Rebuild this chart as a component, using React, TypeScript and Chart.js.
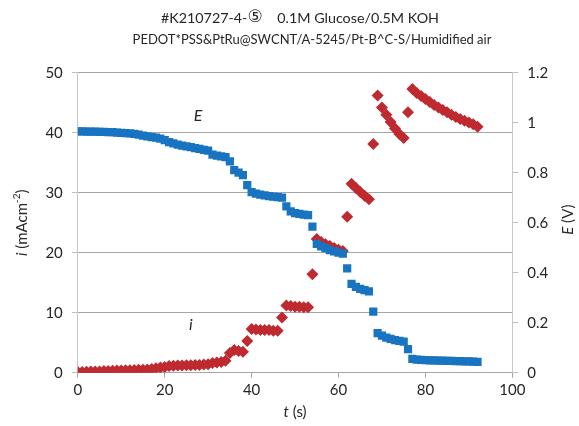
import React, { useEffect, useRef } from "react";
import { Chart, registerables } from "chart.js";

Chart.register(...registerables);

const TIME_S = [
  0, 1, 2, 3, 4, 5, 6, 7, 8, 9, 10, 11, 12, 13, 14, 15, 16, 17, 18, 19,
  20, 21, 22, 23, 24, 25, 26, 27, 28, 29, 30, 31, 32, 33, 34, 35, 36, 37, 38, 39,
  40, 41, 42, 43, 44, 45, 46, 47, 48, 49, 50, 51, 52, 53, 54, 55, 56, 57, 58, 59,
  60, 61, 62, 63, 64, 65, 66, 67, 68, 69, 70, 71, 72, 73, 74, 75, 76, 77, 78, 79,
  80, 81, 82, 83, 84, 85, 86, 87, 88, 89, 90, 91, 92,
];

const CURRENT_I = [
  0.1, 0.12, 0.15, 0.18, 0.2, 0.22,
  0.28, 0.3, 0.33, 0.35, 0.38, 0.4, 0.42, 0.45, 0.48, 0.5, 0.55, 0.6,
  0.75, 0.85, 0.95,
  1.1, 1.15, 1.2, 1.2, 1.25, 1.25, 1.3, 1.3, 1.35, 1.4,
  1.6, 1.7, 1.8, 2.0,
  3.3,
  3.8, 3.6, 3.5,
  5.3,
  7.3, 7.2, 7.1, 7.1, 7.1, 7.0, 7.0,
  9.2,
  11.2, 11.1, 11.0, 11.0, 10.9, 10.9,
  16.4,
  22.3, 21.8, 21.4, 21.1, 20.8, 20.5, 20.3,
  26.0,
  31.5, 30.8, 30.1, 29.5, 28.9,
  38.1,
  46.2,
  44.2, 43.0, 41.8, 40.7, 39.8, 39.1,
  43.4,
  47.3,
  46.6, 46.1, 45.6, 45.1, 44.6, 44.2, 43.8, 43.4, 43.0, 42.6, 42.3, 42.0, 41.7, 41.4, 41.0,
];

const POTENTIAL_E = [
  0.965, 0.965, 0.964, 0.964, 0.964, 0.963, 0.963, 0.962, 0.962,
  0.96, 0.959, 0.958, 0.957, 0.955, 0.952,
  0.948, 0.945, 0.942, 0.94, 0.936,
  0.93,
  0.922, 0.917, 0.912, 0.908, 0.905, 0.902, 0.898, 0.895, 0.891, 0.888,
  0.872, 0.868, 0.865, 0.862,
  0.845,
  0.81, 0.8, 0.79,
  0.75,
  0.722, 0.716, 0.712, 0.709, 0.706, 0.704, 0.702, 0.7,
  0.665,
  0.645, 0.638, 0.635, 0.632, 0.63,
  0.584,
  0.515, 0.505, 0.498, 0.49, 0.485, 0.48, 0.476,
  0.417,
  0.355, 0.343, 0.335, 0.33, 0.325,
  0.244,
  0.158, 0.148, 0.14, 0.135, 0.13, 0.127, 0.124,
  0.094,
  0.055, 0.052, 0.051, 0.05, 0.049, 0.049, 0.048, 0.048, 0.047, 0.047, 0.046, 0.046, 0.045, 0.045, 0.044, 0.043,
];

const TITLE_LINE_1 = ["#K210727-4-", "⑤", "    0.1M Glucose/0.5M KOH"];
const TITLE_LINE_2 = "PEDOT*PSS&PtRu@SWCNT/A-5245/Pt-B^C-S/Humidified air";

const T_RANGE = [0, 100];
const I_RANGE = [0, 50];
const E_RANGE = [0, 1.2];

// series labels placed in data coordinates [t, i]
const E_LABEL_POS = [27.7, 42.8];
const I_LABEL_POS = [26.0, 7.9];

const FONT = "Lato, 'Open Sans', sans-serif";
const SYMBOL_FONT = "'DejaVu Sans', sans-serif";
const TEXT = "#262626";
const BLUE = "#1874c0";
const RED = "#be2a30";

type Seg = { text: string; italic?: boolean; sup?: boolean; family?: string; size?: number };

function drawRich(
  ctx: CanvasRenderingContext2D,
  segs: Seg[],
  cx: number,
  cy: number,
  rotate: boolean,
  size: number
) {
  ctx.save();
  ctx.translate(cx, cy);
  if (rotate) ctx.rotate(-Math.PI / 2);
  ctx.fillStyle = TEXT;
  ctx.textBaseline = "middle";
  ctx.textAlign = "left";
  const fonts = segs.map(
    (s) =>
      `${s.italic ? "italic " : ""}${s.size ? s.size : s.sup ? Math.round(size * 0.65) : size}px ${
        s.family || FONT
      }`
  );
  const widths = segs.map((s, k) => {
    ctx.font = fonts[k];
    return ctx.measureText(s.text).width;
  });
  const total = widths.reduce((a, b) => a + b, 0);
  let x = -total / 2;
  segs.forEach((s, k) => {
    ctx.font = fonts[k];
    ctx.fillText(s.text, x, s.sup ? -size * 0.33 : 0);
    x += widths[k];
  });
  ctx.restore();
}

const textPlugin = {
  id: "richText",
  afterDraw(chart: any) {
    const ctx = chart.ctx as CanvasRenderingContext2D;
    const area = chart.chartArea;
    const xs = chart.scales.x;
    const ys = chart.scales.y;
    drawRich(
      ctx,
      [
        { text: TITLE_LINE_1[0] },
        { text: TITLE_LINE_1[1], family: SYMBOL_FONT, size: 17 },
        { text: TITLE_LINE_1[2] },
      ],
      300,
      18,
      false,
      14.3
    );
    drawRich(ctx, [{ text: TITLE_LINE_2 }], 312, 40, false, 13);
    drawRich(
      ctx,
      [{ text: "i", italic: true }, { text: " (mAcm" }, { text: "-2", sup: true }, { text: ")" }],
      22,
      (area.top + area.bottom) / 2,
      true,
      15
    );
    drawRich(
      ctx,
      [{ text: "E", italic: true }, { text: " (V)" }],
      568,
      (area.top + area.bottom) / 2 - 3,
      true,
      15
    );
    drawRich(
      ctx,
      [{ text: "t", italic: true }, { text: " (s)" }],
      (area.left + area.right) / 2,
      412,
      false,
      15
    );
    drawRich(
      ctx,
      [{ text: "E", italic: true }],
      xs.getPixelForValue(E_LABEL_POS[0]),
      ys.getPixelForValue(E_LABEL_POS[1]),
      false,
      16
    );
    drawRich(
      ctx,
      [{ text: "i", italic: true }],
      xs.getPixelForValue(I_LABEL_POS[0]),
      ys.getPixelForValue(I_LABEL_POS[1]),
      false,
      16
    );
  },
};

export default function App() {
  const ref = useRef<HTMLCanvasElement | null>(null);

  useEffect(() => {
    document.body.style.margin = "0";
    const canvas = ref.current;
    if (!canvas) return;
    const ePoints = TIME_S.map((t, k) => ({ x: t, y: POTENTIAL_E[k] }));
    const iPoints = TIME_S.map((t, k) => ({ x: t, y: CURRENT_I[k] }));
    const chart = new Chart(canvas, {
      type: "scatter",
      data: {
        datasets: [
          {
            label: "E",
            data: ePoints,
            yAxisID: "y1",
            pointStyle: "rect",
            pointRadius: 5.8,
            pointBorderWidth: 0,
            backgroundColor: BLUE,
            borderColor: BLUE,
          },
          {
            label: "i",
            data: iPoints,
            yAxisID: "y",
            pointStyle: "rectRot",
            pointRadius: 6,
            pointBorderWidth: 0,
            backgroundColor: RED,
            borderColor: RED,
          },
        ],
      },
      options: {
        responsive: false,
        animation: false,
        devicePixelRatio: 1,
        layout: { padding: { top: 72.7, left: 0, right: 0, bottom: 0 } },
        plugins: {
          legend: { display: false },
          tooltip: { enabled: false },
          title: { display: false },
        },
        scales: {
          x: {
            type: "linear",
            min: T_RANGE[0],
            max: T_RANGE[1],
            afterFit: (s: any) => {
              s.height = 53.3;
            },
            ticks: {
              stepSize: 20,
              color: TEXT,
              font: { family: FONT, size: 15 },
              padding: 3,
            },
            grid: {
              drawOnChartArea: false,
              drawTicks: true,
              tickLength: 5,
              tickColor: "#a6a6a6",
            },
            border: { color: "#a6a6a6" },
          },
          y: {
            type: "linear",
            position: "left",
            min: I_RANGE[0],
            max: I_RANGE[1],
            afterFit: (s: any) => {
              s.width = 77.8;
            },
            ticks: {
              stepSize: 10,
              color: TEXT,
              font: { family: FONT, size: 15 },
              padding: 9,
            },
            grid: {
              color: "#a6a6a6",
              tickColor: "#bfbfbf",
              tickLength: 6,
            },
            border: { color: "#c8c8c8" },
          },
          y1: {
            type: "linear",
            position: "right",
            min: E_RANGE[0],
            max: E_RANGE[1],
            afterFit: (s: any) => {
              s.width = 66.7;
            },
            ticks: {
              stepSize: 0.2,
              color: TEXT,
              font: { family: FONT, size: 15 },
              padding: 9,
              callback: (v: any) => String(Number(Number(v).toFixed(1))),
            },
            grid: {
              drawOnChartArea: false,
              tickColor: "#bfbfbf",
              tickLength: 6,
            },
            border: { color: "#c8c8c8" },
          },
        },
      },
      plugins: [textPlugin],
    });
    return () => chart.destroy();
  }, []);

  return (
    <div style={{ width: 579, height: 426 }}>
      <canvas ref={ref} width={579} height={426} style={{ display: "block" }} />
    </div>
  );
}
